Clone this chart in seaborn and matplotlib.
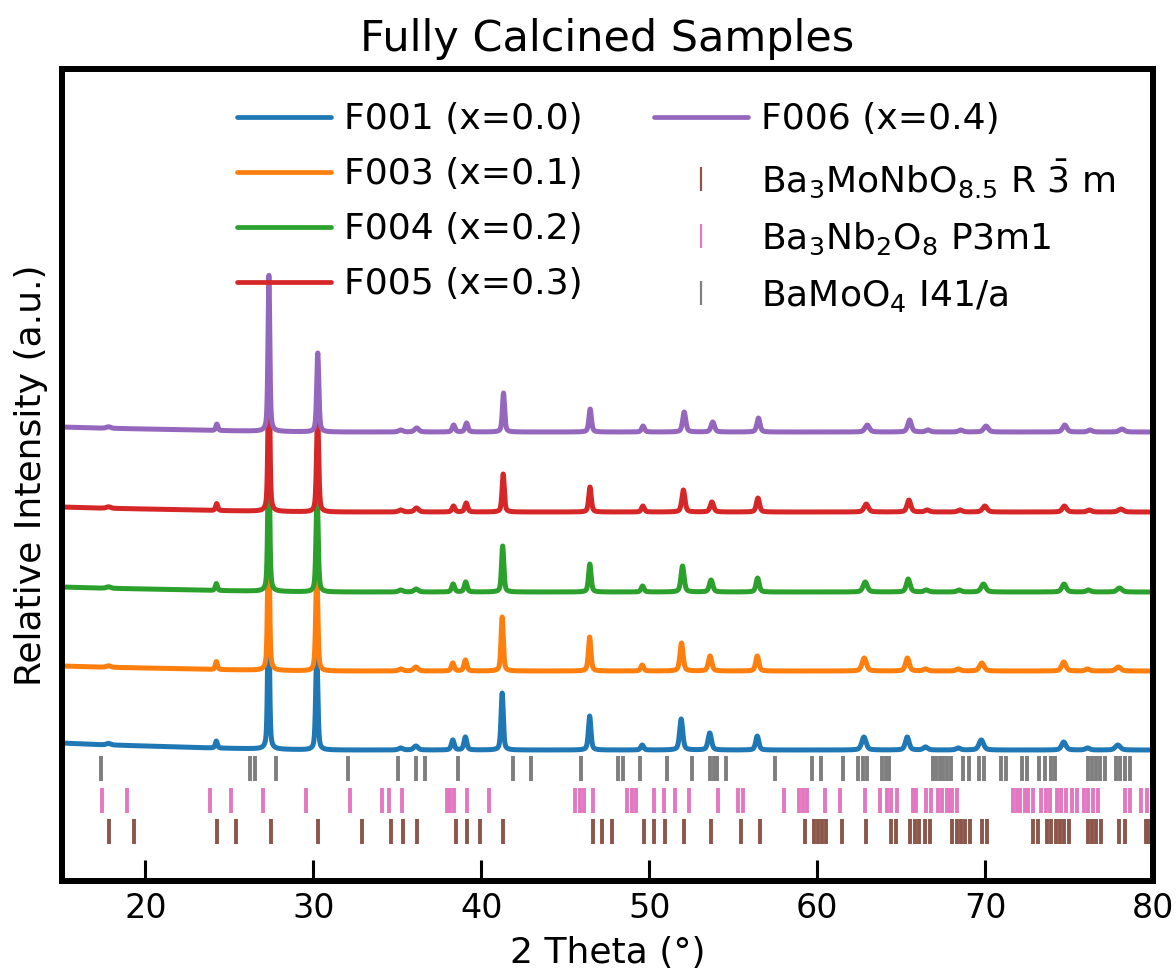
import numpy as np
import pandas as pd
import matplotlib
matplotlib.use("Agg")
import matplotlib.pyplot as plt
import seaborn as sns
from matplotlib.lines import Line2D

# ---------------- data ----------------
samples = ["F001 (x=0.0)", "F003 (x=0.1)", "F004 (x=0.2)", "F005 (x=0.3)", "F006 (x=0.4)"]
colors = ["#1f77b4", "#ff7f0e", "#2ca02c", "#d62728", "#9467bd"]
offsets = [0.0, 0.79, 1.58, 2.38, 3.18]

# peak positions (2theta) for each sample
pos_F001 = [17.8, 24.22, 27.33, 30.20, 35.2, 36.10, 38.30, 39.05, 41.24, 46.45, 49.58, 51.90, 53.60, 56.43, 62.78, 65.36, 66.45, 68.40, 69.77, 74.68, 76.10, 77.90]
pos_F003 = [17.8, 24.22, 27.33, 30.20, 35.2, 36.10, 38.30, 39.05, 41.24, 46.45, 49.58, 51.92, 53.62, 56.43, 62.80, 65.37, 66.45, 68.40, 69.80, 74.68, 76.10, 77.93]
pos_F004 = [17.8, 24.22, 27.34, 30.22, 35.2, 36.12, 38.32, 39.07, 41.27, 46.46, 49.60, 51.98, 53.68, 56.45, 62.86, 65.42, 66.50, 68.45, 69.90, 74.70, 76.15, 78.00]
pos_F005 = [17.8, 24.24, 27.35, 30.25, 35.2, 36.14, 38.34, 39.10, 41.30, 46.47, 49.62, 52.03, 53.73, 56.47, 62.92, 65.46, 66.55, 68.50, 69.98, 74.72, 76.20, 78.08]
pos_F006 = [17.8, 24.25, 27.35, 30.26, 35.2, 36.15, 38.35, 39.12, 41.32, 46.48, 49.63, 52.08, 53.78, 56.50, 62.98, 65.50, 66.60, 68.55, 70.05, 74.74, 76.25, 78.15]

# peak heights (relative intensity) for each sample
hgt_F001 = [0.015, 0.07, 1.55, 1.00, 0.02, 0.04, 0.10, 0.13, 0.57, 0.34, 0.05, 0.31, 0.17, 0.14, 0.13, 0.13, 0.03, 0.02, 0.10, 0.08, 0.02, 0.05]
hgt_F003 = [0.015, 0.08, 1.55, 1.00, 0.02, 0.04, 0.08, 0.11, 0.54, 0.34, 0.06, 0.28, 0.15, 0.15, 0.13, 0.13, 0.02, 0.02, 0.08, 0.09, 0.02, 0.04]
hgt_F004 = [0.015, 0.07, 1.55, 1.00, 0.02, 0.03, 0.08, 0.10, 0.46, 0.28, 0.06, 0.26, 0.12, 0.14, 0.10, 0.13, 0.02, 0.02, 0.08, 0.08, 0.02, 0.04]
hgt_F005 = [0.015, 0.07, 1.55, 1.00, 0.02, 0.04, 0.06, 0.09, 0.38, 0.25, 0.06, 0.22, 0.10, 0.14, 0.08, 0.12, 0.02, 0.02, 0.06, 0.06, 0.02, 0.03]
hgt_F006 = [0.015, 0.065, 1.56, 0.79, 0.02, 0.04, 0.07, 0.09, 0.39, 0.23, 0.06, 0.20, 0.10, 0.14, 0.07, 0.12, 0.02, 0.02, 0.06, 0.07, 0.02, 0.03]

# peak widths (FWHM, degrees)
fwhm = [0.30, 0.15, 0.13, 0.15, 0.30, 0.30, 0.20, 0.20, 0.16, 0.18, 0.20, 0.22, 0.24, 0.22, 0.30, 0.26, 0.30, 0.30, 0.32, 0.30, 0.30, 0.35]

# low-angle background
bg_x = [15, 17, 20, 24, 30, 80]
bg_F001 = [0.07, 0.055, 0.04, 0.02, 0.0, 0.0]
bg_F003 = [0.05, 0.04, 0.03, 0.015, 0.0, 0.0]
bg_F004 = [0.05, 0.04, 0.03, 0.015, 0.0, 0.0]
bg_F005 = [0.05, 0.04, 0.03, 0.015, 0.0, 0.0]
bg_F006 = [0.05, 0.04, 0.03, 0.015, 0.0, 0.0]

# reference phase reflections (2theta)
phase_names = [r"Ba$_3$MoNbO$_{8.5}$ R $\bar{3}$ m", r"Ba$_3$Nb$_2$O$_8$ P3m1", r"BaMoO$_4$ I41/a"]
phase_colors = ["#8c564b", "#e377c2", "#7f7f7f"]
ticks_Ba3MoNbO85 = [17.84, 19.31, 24.27, 25.42, 27.46, 30.26, 32.92, 34.62, 35.36, 36.15, 38.49, 39.15, 39.90,
                    41.29, 46.65, 47.20, 47.80, 49.70, 50.26, 50.95, 52.08, 53.69, 55.44, 56.57, 59.26, 59.80,
                    60.05, 60.30, 60.50, 61.49, 62.92, 64.40, 64.70, 65.50, 65.80, 66.05, 66.40, 66.70, 68.00,
                    68.30, 68.55, 68.80, 69.10, 69.80, 70.10, 72.85, 73.15, 73.70, 73.95, 74.20, 74.45, 74.70,
                    75.00, 76.10, 76.35, 76.60, 76.90, 77.95, 78.30, 79.55, 79.70]
ticks_Ba3Nb2O8 = [17.44, 18.89, 23.87, 25.10, 27.00, 29.56, 32.16, 34.09, 34.52, 35.30, 37.95, 38.15, 38.35,
                  39.15, 40.44, 45.60, 45.85, 46.10, 46.65, 48.70, 49.00, 49.20, 50.26, 50.85, 51.51, 52.38,
                  54.09, 55.30, 55.60, 58.04, 58.90, 59.15, 59.40, 60.48, 61.33, 62.86, 63.71, 64.15, 64.40,
                  64.76, 65.70, 65.90, 66.50, 66.80, 67.20, 67.45, 67.70, 67.90, 68.05, 68.30, 71.65, 71.90,
                  72.10, 72.35, 72.55, 72.85, 73.30, 73.60, 73.85, 74.25, 74.50, 74.80, 75.20, 75.45, 75.90,
                  76.15, 76.40, 76.70, 78.35, 78.65, 79.30, 79.65]
ticks_BaMoO4 = [17.34, 26.25, 26.55, 27.80, 32.04, 35.04, 36.09, 36.67, 38.59, 41.88, 42.95, 45.93, 48.15,
                48.45, 49.46, 51.05, 52.54, 53.60, 53.85, 54.05, 54.58, 57.46, 59.70, 60.20, 61.52, 62.45,
                62.70, 62.95, 63.85, 64.10, 64.30, 66.90, 67.10, 67.30, 67.50, 67.70, 67.95, 68.70, 69.05,
                69.65, 69.95, 70.95, 71.25, 72.20, 72.50, 73.20, 73.55, 73.90, 74.15, 76.10, 76.35, 76.60,
                76.85, 77.15, 77.80, 78.05, 78.30, 78.60]
phase_rows = [(-0.94, -0.69), (-0.63, -0.38), (-0.31, -0.06)]

xticks = [20, 30, 40, 50, 60, 70, 80]

# ---------------- build patterns from the peak tables ----------------
positions = [pos_F001, pos_F003, pos_F004, pos_F005, pos_F006]
heights = [hgt_F001, hgt_F003, hgt_F004, hgt_F005, hgt_F006]
backgrounds = [bg_F001, bg_F003, bg_F004, bg_F005, bg_F006]

tt = np.arange(15.0, 80.0001, 0.01)
frames = []
for name, off, pp, hh, bg in zip(samples, offsets, positions, heights, backgrounds):
    y = np.interp(tt, bg_x, bg) + off
    for p, h, w in zip(pp, hh, fwhm):
        g = np.exp(-4 * np.log(2) * ((tt - p) / w) ** 2)
        l = 1.0 / (1.0 + 4 * ((tt - p) / w) ** 2)
        y = y + h * (0.5 * g + 0.5 * l)
    frames.append(pd.DataFrame({"2theta": tt, "I": y, "sample": name}))
df = pd.concat(frames, ignore_index=True)

# ---------------- plot ----------------
sns.set_theme(style="white")
plt.rcParams["font.family"] = ["DejaVu Sans"]
plt.rcParams["mathtext.fontset"] = "dejavusans"
plt.rcParams["text.color"] = "black"
plt.rcParams["axes.labelcolor"] = "black"
plt.rcParams["xtick.color"] = "black"
plt.rcParams["ytick.color"] = "black"

fig = plt.figure(figsize=(11.76, 9.72), dpi=100)
ax = fig.add_axes([0.0523, 0.0936, 0.9282, 0.8354])

sns.lineplot(data=df, x="2theta", y="I", hue="sample", hue_order=samples,
             palette=colors, lw=3.6, sort=False, estimator=None, legend=False, ax=ax)

for ticks, col, (y0, y1) in zip([ticks_Ba3MoNbO85, ticks_Ba3Nb2O8, ticks_BaMoO4], phase_colors, phase_rows):
    ax.vlines(ticks, y0, y1, colors=col, lw=2.8)

ax.set_xlim(15, 80)
ax.set_ylim(-1.31, 6.81)
ax.set_xticks(xticks)
ax.set_yticks([])
ax.tick_params(axis="x", direction="in", length=15, width=2.2, labelsize=24, pad=8,
               bottom=True, top=False, colors="black", labelcolor="black")
for s in ax.spines.values():
    s.set_linewidth(4.3)
    s.set_color("black")

ax.set_xlabel("2 Theta (\u00b0)", fontsize=26, labelpad=8, color="black")
ax.set_ylabel("Relative Intensity (a.u.)", fontsize=26, labelpad=10, color="black")
ax.set_title("Fully Calcined Samples", fontsize=31, pad=13, color="black")

handles = [Line2D([], [], color=c, lw=3.4) for c in colors]
handles += [Line2D([], [], color=c, marker="|", linestyle="None", markersize=17, markeredgewidth=1.6)
            for c in phase_colors]
labels = samples + phase_names
leg = ax.legend(handles, labels, ncol=2, frameon=False, fontsize=26, loc="upper left",
                bbox_to_anchor=(0.131, 0.999), handlelength=2.6, handletextpad=0.35,
                columnspacing=2.0, labelspacing=0.58, borderpad=0.4)
for t in leg.get_texts():
    t.set_color("black")

fig.savefig("out.png", dpi=100)
